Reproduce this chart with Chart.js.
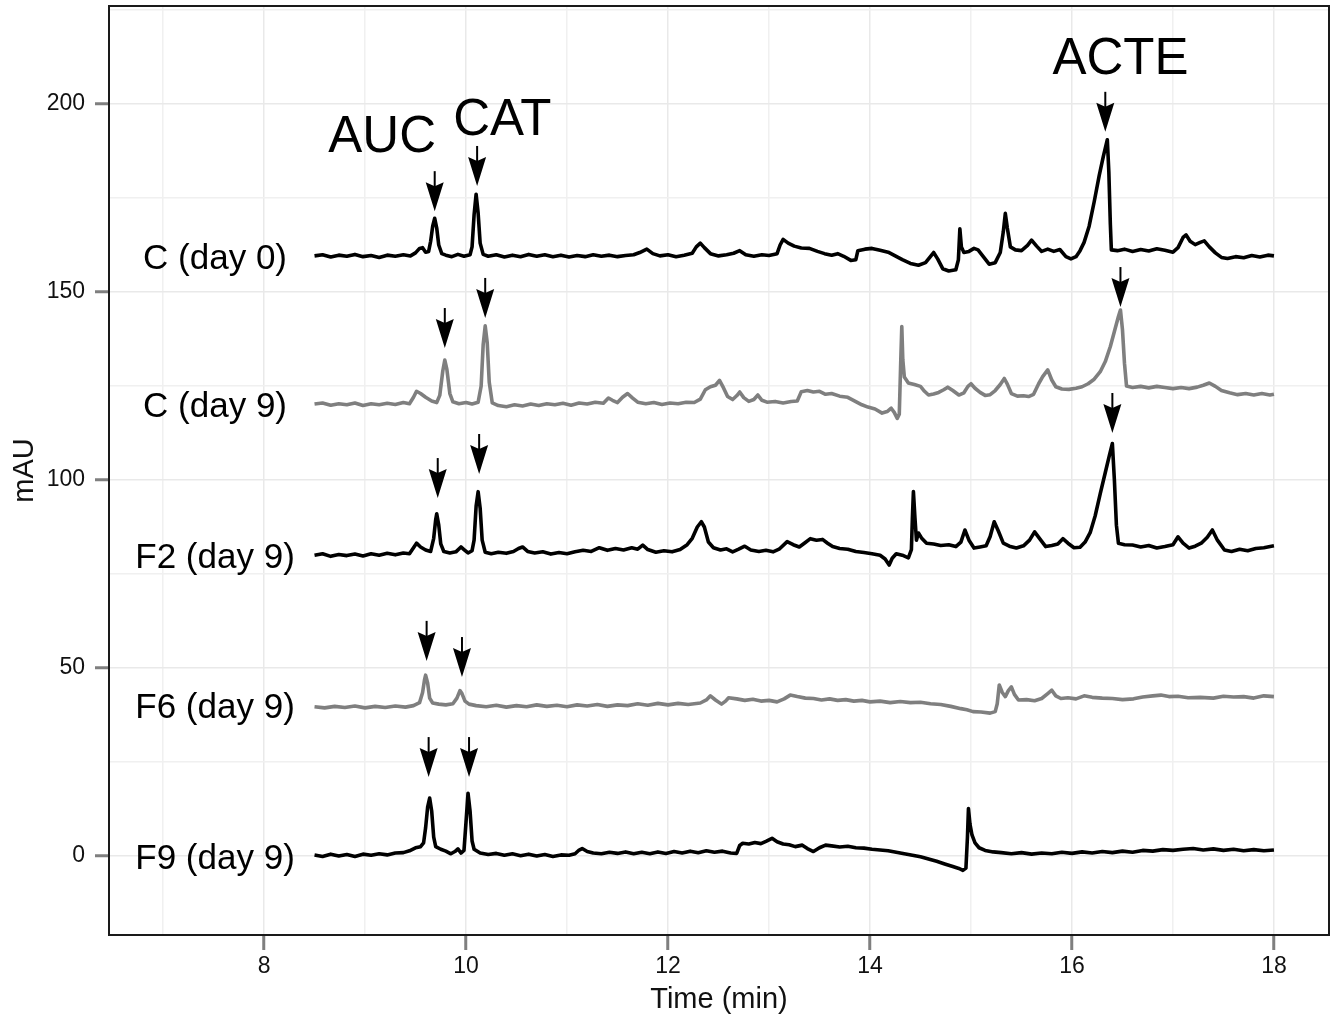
<!DOCTYPE html>
<html>
<head>
<meta charset="utf-8">
<script src="https://cdn.jsdelivr.net/npm/chart.js@4.4.1/dist/chart.umd.min.js"></script>
<style>
  html, body { margin: 0; padding: 0; background: #fff; }
  #wrap { width: 1331px; height: 1018px; position: relative; }
</style>
</head>
<body>
<div id="wrap"><canvas id="chrom"></canvas></div>
<script>
// Chromatogram traces, [time (min), signal (mAU)]
const traceC0 = [
    [8.50, 159.6], [8.58, 159.9], [8.66, 159.3], [8.74, 159.8], [8.82, 159.5], [8.90, 160.0], [8.98, 159.4],
    [9.06, 159.7], [9.14, 159.2], [9.22, 159.8], [9.30, 159.5], [9.38, 159.9], [9.45, 159.6], [9.50, 160.4],
    [9.54, 161.6], [9.57, 161.8], [9.60, 160.6], [9.63, 160.8], [9.65, 163.5], [9.67, 167.5], [9.69, 169.6],
    [9.71, 167.0], [9.73, 162.5], [9.76, 160.2], [9.80, 159.8], [9.86, 159.4], [9.92, 160.0], [9.98, 159.5],
    [10.04, 159.9], [10.06, 162.0], [10.08, 170.5], [10.10, 176.0], [10.12, 171.0], [10.14, 163.0], [10.17, 160.0],
    [10.22, 159.5], [10.30, 159.9], [10.38, 159.3], [10.46, 159.8], [10.54, 159.4], [10.62, 160.0], [10.70, 159.5],
    [10.78, 159.9], [10.86, 159.4], [10.94, 159.8], [11.02, 159.3], [11.10, 159.7], [11.18, 159.4], [11.26, 159.9],
    [11.34, 159.5], [11.42, 159.8], [11.50, 159.4], [11.58, 159.7], [11.66, 159.9], [11.72, 160.5], [11.79, 161.4],
    [11.85, 160.2], [11.92, 159.6], [12.00, 159.9], [12.08, 159.4], [12.16, 159.8], [12.24, 160.3], [12.28, 162.0],
    [12.32, 163.0], [12.36, 161.8], [12.42, 160.2], [12.50, 159.6], [12.58, 159.9], [12.65, 160.3], [12.71, 161.0],
    [12.77, 159.9], [12.85, 159.5], [12.93, 159.9], [13.00, 159.7], [13.08, 160.2], [13.11, 162.5], [13.14, 164.0],
    [13.19, 163.0], [13.25, 162.2], [13.32, 161.7], [13.40, 161.6], [13.48, 160.8], [13.55, 160.2], [13.62, 159.8],
    [13.68, 160.2], [13.74, 159.5], [13.81, 158.4], [13.86, 158.6], [13.88, 161.0], [13.95, 161.4], [14.02, 161.6],
    [14.10, 161.1], [14.18, 160.6], [14.25, 159.6], [14.32, 158.6], [14.40, 157.6], [14.48, 157.1], [14.55, 157.8],
    [14.60, 159.5], [14.63, 160.5], [14.67, 158.8], [14.72, 156.2], [14.78, 155.6], [14.85, 155.9], [14.875, 158.5],
    [14.89, 166.8], [14.905, 162.0], [14.93, 160.5], [14.98, 160.8], [15.03, 161.6], [15.07, 161.2], [15.12, 159.5],
    [15.18, 157.4], [15.24, 157.8], [15.29, 160.5], [15.32, 166.0], [15.34, 170.9], [15.36, 167.0], [15.39, 162.0],
    [15.44, 161.2], [15.50, 161.0], [15.56, 162.4], [15.60, 163.8], [15.65, 162.2], [15.70, 160.8], [15.76, 161.4],
    [15.82, 160.8], [15.88, 161.3], [15.94, 159.4], [15.99, 158.8], [16.04, 159.4], [16.08, 161.0], [16.12, 163.2],
    [16.17, 167.5], [16.22, 174.0], [16.27, 181.0], [16.31, 186.0], [16.35, 190.5], [16.365, 182.0], [16.38, 168.0],
    [16.39, 161.2], [16.45, 161.0], [16.52, 161.4], [16.60, 160.8], [16.68, 161.3], [16.76, 160.9], [16.84, 161.5],
    [16.92, 161.1], [17.00, 160.6], [17.05, 161.8], [17.10, 164.5], [17.13, 165.2], [17.17, 163.5], [17.22, 162.6],
    [17.27, 163.2], [17.31, 163.6], [17.36, 162.0], [17.42, 160.4], [17.48, 159.2], [17.54, 158.9], [17.62, 159.4],
    [17.70, 159.1], [17.78, 159.7], [17.86, 159.3], [17.94, 159.8], [18.00, 159.6]
];
const traceC9 = [
    [8.50, 120.2], [8.58, 120.5], [8.66, 119.9], [8.74, 120.3], [8.82, 120.0], [8.90, 120.5], [8.98, 119.8],
    [9.06, 120.3], [9.14, 120.0], [9.22, 120.4], [9.30, 120.1], [9.38, 120.6], [9.44, 120.3], [9.48, 122.0],
    [9.51, 123.6], [9.55, 123.0], [9.60, 122.0], [9.66, 121.0], [9.71, 120.6], [9.74, 122.5], [9.77, 129.0],
    [9.79, 131.9], [9.81, 129.5], [9.84, 123.0], [9.87, 120.8], [9.93, 120.3], [10.00, 120.6], [10.06, 120.2],
    [10.12, 120.7], [10.15, 125.0], [10.17, 136.0], [10.19, 141.0], [10.21, 136.5], [10.23, 126.0], [10.26, 120.5],
    [10.32, 119.8], [10.40, 119.5], [10.48, 120.0], [10.56, 119.7], [10.64, 120.2], [10.72, 119.8], [10.80, 120.3],
    [10.88, 120.0], [10.96, 120.4], [11.04, 119.9], [11.12, 120.5], [11.20, 120.2], [11.28, 120.7], [11.36, 120.4],
    [11.41, 121.8], [11.45, 121.2], [11.50, 120.6], [11.55, 122.0], [11.60, 123.0], [11.65, 121.8], [11.70, 120.7],
    [11.78, 120.3], [11.86, 120.6], [11.94, 120.1], [12.02, 120.5], [12.10, 120.3], [12.18, 120.7], [12.26, 120.6],
    [12.32, 121.5], [12.37, 124.0], [12.42, 124.8], [12.47, 125.2], [12.51, 126.5], [12.55, 124.5], [12.59, 122.2],
    [12.64, 121.4], [12.68, 122.4], [12.71, 123.4], [12.75, 121.9], [12.80, 120.9], [12.85, 121.4], [12.89, 122.6],
    [12.93, 121.2], [12.98, 120.7], [13.06, 120.9], [13.14, 120.5], [13.22, 120.9], [13.28, 121.0], [13.32, 123.5],
    [13.38, 123.8], [13.44, 123.4], [13.50, 123.6], [13.56, 122.8], [13.62, 123.0], [13.70, 122.3], [13.78, 122.0],
    [13.85, 121.0], [13.92, 120.0], [13.98, 119.4], [14.05, 118.9], [14.12, 117.8], [14.17, 118.2], [14.21, 119.1],
    [14.24, 118.0], [14.27, 116.4], [14.29, 117.5], [14.305, 132.0], [14.315, 140.8], [14.325, 132.0], [14.34, 127.4],
    [14.38, 125.8], [14.44, 125.4], [14.50, 124.9], [14.54, 123.6], [14.58, 122.6], [14.63, 122.9], [14.68, 123.3],
    [14.73, 124.0], [14.77, 124.7], [14.82, 123.8], [14.88, 122.6], [14.93, 123.2], [14.97, 124.9], [15.00, 125.6],
    [15.04, 124.4], [15.09, 123.3], [15.14, 122.5], [15.19, 122.7], [15.24, 123.8], [15.29, 125.4], [15.33, 127.0],
    [15.36, 125.5], [15.40, 123.0], [15.46, 122.3], [15.52, 122.4], [15.57, 122.2], [15.62, 122.8], [15.67, 125.6],
    [15.71, 127.5], [15.76, 129.3], [15.80, 126.6], [15.84, 124.8], [15.90, 124.2], [15.97, 124.1], [16.04, 124.4],
    [16.10, 124.8], [16.16, 125.6], [16.22, 126.8], [16.28, 128.8], [16.33, 131.5], [16.38, 135.5], [16.42, 139.5],
    [16.46, 143.5], [16.48, 145.2], [16.50, 140.0], [16.52, 131.0], [16.54, 125.0], [16.60, 124.6], [16.68, 124.9],
    [16.76, 124.5], [16.84, 124.9], [16.92, 124.6], [17.00, 124.3], [17.08, 124.6], [17.16, 124.3], [17.24, 124.7],
    [17.30, 125.2], [17.36, 125.8], [17.42, 124.9], [17.48, 123.8], [17.56, 123.2], [17.64, 122.7], [17.72, 123.0],
    [17.80, 122.6], [17.88, 123.0], [17.96, 122.6], [18.00, 122.8]
];
const traceF2 = [
    [8.50, 80.0], [8.58, 80.4], [8.66, 79.7], [8.74, 80.2], [8.82, 79.9], [8.90, 80.3], [8.98, 79.8],
    [9.06, 80.4], [9.14, 80.0], [9.22, 80.5], [9.30, 80.1], [9.38, 80.6], [9.44, 80.4], [9.48, 82.0],
    [9.51, 83.2], [9.55, 82.2], [9.60, 81.4], [9.65, 81.0], [9.68, 84.5], [9.70, 89.5], [9.71, 91.0],
    [9.73, 88.0], [9.75, 83.0], [9.78, 81.0], [9.84, 80.6], [9.90, 80.9], [9.95, 82.2], [9.98, 81.5],
    [10.02, 80.6], [10.06, 81.2], [10.08, 84.0], [10.10, 93.0], [10.12, 96.9], [10.14, 92.5], [10.16, 84.0],
    [10.19, 80.8], [10.25, 80.4], [10.32, 80.8], [10.40, 80.5], [10.47, 81.0], [10.52, 81.8], [10.56, 82.2],
    [10.61, 81.0], [10.68, 80.6], [10.76, 80.9], [10.84, 80.3], [10.92, 80.7], [11.00, 80.4], [11.08, 80.9],
    [11.16, 81.3], [11.24, 81.0], [11.32, 82.0], [11.40, 81.3], [11.48, 81.8], [11.56, 81.4], [11.64, 82.0],
    [11.70, 81.6], [11.75, 82.7], [11.80, 81.5], [11.88, 80.8], [11.96, 81.2], [12.04, 80.9], [12.12, 81.5],
    [12.19, 82.8], [12.24, 84.5], [12.29, 87.5], [12.33, 88.9], [12.36, 87.5], [12.40, 83.5], [12.45, 82.0],
    [12.52, 81.4], [12.58, 81.7], [12.64, 80.9], [12.70, 81.6], [12.76, 82.4], [12.82, 81.4], [12.90, 81.0],
    [12.97, 81.3], [13.04, 80.9], [13.10, 81.6], [13.18, 83.6], [13.24, 82.8], [13.30, 82.2], [13.36, 83.4],
    [13.41, 84.4], [13.47, 84.0], [13.53, 84.2], [13.58, 83.2], [13.63, 82.3], [13.70, 81.8], [13.78, 81.6],
    [13.86, 81.0], [13.94, 80.7], [14.02, 80.4], [14.10, 80.0], [14.15, 79.0], [14.19, 77.4], [14.22, 79.2],
    [14.26, 80.4], [14.32, 80.0], [14.38, 79.3], [14.41, 81.5], [14.42, 90.0], [14.43, 96.9], [14.445, 90.0],
    [14.46, 84.0], [14.48, 85.9], [14.51, 84.6], [14.56, 83.2], [14.63, 83.0], [14.70, 82.6], [14.78, 82.8],
    [14.85, 82.3], [14.90, 83.5], [14.94, 86.7], [14.98, 84.0], [15.03, 81.9], [15.09, 82.2], [15.15, 82.5],
    [15.19, 85.0], [15.23, 88.9], [15.27, 86.5], [15.32, 83.2], [15.38, 82.4], [15.45, 81.9], [15.52, 82.5],
    [15.58, 84.0], [15.63, 86.2], [15.68, 84.4], [15.74, 82.3], [15.80, 82.6], [15.86, 83.0], [15.91, 84.4],
    [15.96, 83.2], [16.02, 82.0], [16.08, 82.1], [16.13, 83.5], [16.18, 86.0], [16.23, 90.5], [16.28, 96.4],
    [16.33, 102.0], [16.37, 106.5], [16.40, 109.7], [16.42, 100.0], [16.44, 88.0], [16.46, 83.2], [16.52, 82.8],
    [16.60, 82.7], [16.68, 82.2], [16.76, 82.6], [16.84, 81.9], [16.92, 82.3], [17.00, 82.8], [17.05, 84.9],
    [17.10, 83.2], [17.16, 81.9], [17.22, 82.4], [17.28, 83.2], [17.34, 84.8], [17.39, 86.7], [17.44, 84.0],
    [17.51, 81.4], [17.58, 81.0], [17.66, 81.6], [17.74, 81.2], [17.82, 81.8], [17.90, 82.0], [18.00, 82.5]
];
const traceF6 = [
    [8.50, 39.7], [8.60, 39.4], [8.70, 39.8], [8.80, 39.5], [8.90, 39.9], [9.00, 39.4], [9.10, 39.8],
    [9.20, 39.5], [9.30, 39.9], [9.40, 39.6], [9.48, 40.0], [9.54, 40.8], [9.57, 43.5], [9.59, 47.0],
    [9.60, 48.1], [9.62, 46.0], [9.64, 42.0], [9.67, 40.7], [9.73, 40.4], [9.80, 40.2], [9.87, 40.5],
    [9.91, 42.0], [9.94, 44.0], [9.96, 43.2], [9.99, 41.2], [10.03, 40.4], [10.10, 40.0], [10.20, 39.7],
    [10.30, 40.1], [10.40, 39.6], [10.50, 40.0], [10.60, 39.7], [10.70, 40.2], [10.80, 39.8], [10.90, 40.1],
    [11.00, 39.7], [11.10, 40.2], [11.20, 39.9], [11.30, 40.3], [11.40, 39.8], [11.50, 40.2], [11.60, 40.0],
    [11.70, 40.5], [11.80, 40.1], [11.90, 40.6], [12.00, 40.2], [12.10, 40.6], [12.20, 40.3], [12.32, 40.7],
    [12.38, 41.5], [12.42, 42.6], [12.47, 41.5], [12.53, 40.4], [12.57, 41.2], [12.60, 42.1], [12.68, 41.8],
    [12.76, 41.4], [12.84, 41.7], [12.92, 41.2], [13.00, 41.4], [13.08, 41.0], [13.15, 41.8], [13.21, 42.8],
    [13.28, 42.4], [13.36, 42.0], [13.44, 41.9], [13.52, 41.5], [13.60, 41.8], [13.68, 41.4], [13.76, 41.6],
    [13.84, 41.2], [13.92, 41.4], [14.00, 41.0], [14.10, 41.2], [14.20, 40.8], [14.30, 41.1], [14.40, 40.8],
    [14.50, 40.9], [14.60, 40.5], [14.70, 40.3], [14.80, 39.8], [14.90, 39.2], [14.96, 38.9], [15.02, 38.4],
    [15.10, 38.3], [15.19, 38.0], [15.24, 38.4], [15.26, 40.5], [15.28, 45.5], [15.31, 43.5], [15.34, 42.4],
    [15.37, 44.0], [15.40, 45.0], [15.43, 43.0], [15.47, 41.5], [15.55, 41.6], [15.63, 41.3], [15.70, 41.9],
    [15.76, 43.2], [15.80, 44.1], [15.84, 42.6], [15.89, 41.9], [15.96, 42.1], [16.04, 41.8], [16.12, 42.6],
    [16.20, 42.2], [16.30, 42.0], [16.40, 41.9], [16.50, 41.6], [16.61, 41.8], [16.70, 42.3], [16.80, 42.6],
    [16.88, 42.8], [16.96, 42.4], [17.05, 42.5], [17.15, 42.1], [17.27, 42.2], [17.40, 42.0], [17.50, 42.5],
    [17.60, 42.3], [17.70, 42.4], [17.80, 42.0], [17.90, 42.6], [18.00, 42.4]
];
const traceF9 = [
    [8.50, 0.3], [8.58, -0.1], [8.66, 0.5], [8.74, 0.0], [8.82, 0.4], [8.90, -0.1], [8.98, 0.5],
    [9.06, 0.2], [9.14, 0.6], [9.22, 0.3], [9.30, 0.8], [9.38, 0.9], [9.44, 1.4], [9.50, 2.2],
    [9.55, 2.5], [9.58, 3.5], [9.60, 7.5], [9.62, 13.0], [9.64, 15.4], [9.66, 12.0], [9.68, 5.0],
    [9.70, 2.5], [9.75, 1.8], [9.80, 1.3], [9.85, 0.6], [9.89, 1.2], [9.92, 1.9], [9.95, 0.8],
    [9.98, 1.5], [10.00, 9.0], [10.02, 16.7], [10.04, 12.0], [10.06, 4.0], [10.08, 1.8], [10.14, 0.8],
    [10.22, 0.4], [10.30, 0.7], [10.38, 0.2], [10.46, 0.6], [10.54, 0.1], [10.62, 0.5], [10.70, 0.0],
    [10.78, 0.4], [10.86, -0.1], [10.94, 0.3], [11.02, 0.2], [11.08, 0.6], [11.12, 1.6], [11.15, 2.0],
    [11.20, 1.2], [11.26, 0.8], [11.34, 0.6], [11.42, 1.0], [11.50, 0.7], [11.58, 1.1], [11.66, 0.6],
    [11.74, 1.0], [11.82, 0.6], [11.90, 1.1], [11.98, 0.7], [12.06, 1.2], [12.14, 0.8], [12.22, 1.3],
    [12.30, 0.9], [12.38, 1.4], [12.46, 1.0], [12.54, 1.3], [12.62, 0.8], [12.68, 0.7], [12.71, 2.8],
    [12.74, 3.4], [12.80, 3.2], [12.86, 3.6], [12.92, 3.3], [12.97, 3.9], [13.03, 4.7], [13.08, 3.8],
    [13.14, 3.2], [13.20, 3.0], [13.26, 2.5], [13.33, 2.9], [13.38, 2.0], [13.44, 1.2], [13.50, 2.2],
    [13.56, 2.9], [13.62, 2.7], [13.70, 2.4], [13.78, 2.6], [13.86, 2.2], [13.94, 2.1], [14.02, 1.8],
    [14.10, 1.6], [14.18, 1.4], [14.26, 1.0], [14.34, 0.6], [14.42, 0.2], [14.50, -0.2], [14.58, -0.8],
    [14.66, -1.4], [14.74, -2.1], [14.82, -2.8], [14.88, -3.3], [14.92, -3.8], [14.95, -3.2], [14.965, 5.0],
    [14.975, 12.6], [14.99, 8.5], [15.01, 5.6], [15.04, 3.5], [15.08, 2.2], [15.14, 1.5], [15.22, 1.1],
    [15.30, 0.9], [15.40, 0.6], [15.50, 0.9], [15.60, 0.5], [15.70, 0.8], [15.80, 0.6], [15.90, 1.0],
    [16.00, 0.7], [16.10, 1.1], [16.20, 0.8], [16.30, 1.2], [16.40, 0.9], [16.50, 1.3], [16.60, 1.0],
    [16.70, 1.5], [16.80, 1.3], [16.90, 1.7], [17.00, 1.5], [17.10, 1.8], [17.20, 2.0], [17.30, 1.6],
    [17.40, 1.9], [17.50, 1.5], [17.60, 1.8], [17.70, 1.4], [17.80, 1.7], [17.90, 1.4], [18.00, 1.6]
];

const sampleNames = ['C (day 0)', 'C (day 9)', 'F2 (day 9)', 'F6 (day 9)', 'F9 (day 9)'];
const sampleLevels = [158.8, 119.2, 79.3, 39.4, -0.8];

const compoundNames = ['AUC', 'CAT', 'ACTE'];
const compoundTimes = [9.17, 10.36, 16.48];
const compoundLevels = [191.0, 195.5, 211.7];

// marked peaks: arrow tip positions
const arrowTimes = [9.69, 10.11, 16.33, 9.79, 10.19, 16.48, 9.72, 10.13, 16.40, 9.61, 9.96, 9.63, 10.03];
const arrowTips = [171.5, 178.2, 192.6, 135.1, 143.1, 146.0, 95.2, 101.6, 112.5, 51.9, 47.6, 21.0, 21.0];

const xLimits = [6.465, 18.545];
const yLimits = [-21, 226.06];

const traces = [traceC0, traceC9, traceF2, traceF6, traceF9];
const traceColors = ['#000000', '#7f7f7f', '#000000', '#7f7f7f', '#000000'];
const FONT = '"Liberation Sans", Arial, Helvetica, sans-serif';

const decorations = {
    id: 'decorations',
    afterDatasetsDraw(chart) {
        const { ctx, chartArea: a, scales: { x, y } } = chart;
        ctx.save();

        // arrows above the marked peaks
        ctx.fillStyle = '#000';
        ctx.strokeStyle = '#000';
        arrowTimes.forEach((t, i) => {
            const px = x.getPixelForValue(t);
            const tip = y.getPixelForValue(arrowTips[i]);
            ctx.lineWidth = 2;
            ctx.beginPath();
            ctx.moveTo(px, tip - 40);
            ctx.lineTo(px, tip - 20);
            ctx.stroke();
            ctx.beginPath();
            ctx.moveTo(px, tip);
            ctx.lineTo(px - 9, tip - 29);
            ctx.lineTo(px, tip - 25);
            ctx.lineTo(px + 9, tip - 29);
            ctx.closePath();
            ctx.fill();
        });

        // sample names and compound names
        ctx.textAlign = 'center';
        ctx.textBaseline = 'middle';
        ctx.font = '35px ' + FONT;
        const nameX = x.getPixelForValue(7.515);
        sampleNames.forEach((name, i) => {
            ctx.fillText(name, nameX, y.getPixelForValue(sampleLevels[i]));
        });
        ctx.font = '51px ' + FONT;
        compoundNames.forEach((name, i) => {
            ctx.fillText(name, x.getPixelForValue(compoundTimes[i]), y.getPixelForValue(compoundLevels[i]));
        });

        // panel border
        ctx.strokeStyle = '#1a1a1a';
        ctx.lineWidth = 2;
        ctx.strokeRect(a.left, a.top, a.right - a.left, a.bottom - a.top);
        ctx.restore();
    }
};

const ctx = document.getElementById('chrom').getContext('2d');
new Chart(ctx, {
    type: 'scatter',
    data: {
        datasets: traces.map((tr, i) => ({
            label: sampleNames[i],
            data: tr.map(p => ({ x: p[0], y: p[1] })),
            showLine: true,
            borderColor: traceColors[i],
            borderWidth: 3.6,
            borderJoinStyle: 'round',
            pointRadius: 0,
            tension: 0
        }))
    },
    options: {
        responsive: true,
        maintainAspectRatio: false,
        animation: false,
        layout: { padding: { top: 6, right: 2, left: 0, bottom: 0 } },
        plugins: {
            legend: { display: false },
            tooltip: { enabled: false }
        },
        scales: {
            x: {
                type: 'linear',
                min: xLimits[0],
                max: xLimits[1],
                afterFit: s => { s.height = 83; s.paddingLeft = 0; s.paddingRight = 0; },
                border: { display: false },
                grid: {
                    color: c => Math.round(c.tick.value) % 2 === 0 ? '#e9e9e9' : '#f0f0f0',
                    lineWidth: 1.5,
                    tickColor: c => Math.round(c.tick.value) % 2 === 0 ? '#7f7f7f' : 'rgba(0,0,0,0)',
                    tickLength: 15,
                    tickWidth: 3
                },
                ticks: {
                    stepSize: 1,
                    includeBounds: false,
                    autoSkip: false,
                    maxRotation: 0,
                    padding: 3,
                    color: '#111',
                    font: { size: 23, family: FONT },
                    callback: v => Math.round(v) % 2 === 0 ? String(Math.round(v)) : ''
                },
                title: {
                    display: true,
                    text: 'Time (min)',
                    color: '#111',
                    font: { size: 29, family: FONT },
                    padding: { top: 1, bottom: 1 }
                }
            },
            y: {
                type: 'linear',
                min: yLimits[0],
                max: yLimits[1],
                afterFit: s => { s.width = 109; s.paddingTop = 0; s.paddingBottom = 0; },
                border: { display: false },
                grid: {
                    color: c => Math.round(c.tick.value) % 50 === 0 ? '#e9e9e9' : '#f0f0f0',
                    lineWidth: 1.5,
                    tickColor: c => Math.round(c.tick.value) % 50 === 0 ? '#7f7f7f' : 'rgba(0,0,0,0)',
                    tickLength: 14,
                    tickWidth: 3
                },
                ticks: {
                    stepSize: 25,
                    includeBounds: false,
                    autoSkip: false,
                    padding: 10,
                    color: '#111',
                    font: { size: 23, family: FONT },
                    callback: v => Math.round(v) % 50 === 0 ? String(Math.round(v)) : ''
                },
                title: {
                    display: true,
                    text: 'mAU',
                    color: '#111',
                    font: { size: 29, family: FONT },
                    padding: { top: 8, bottom: 8 }
                }
            }
        }
    },
    plugins: [decorations]
});
</script>
</body>
</html>
